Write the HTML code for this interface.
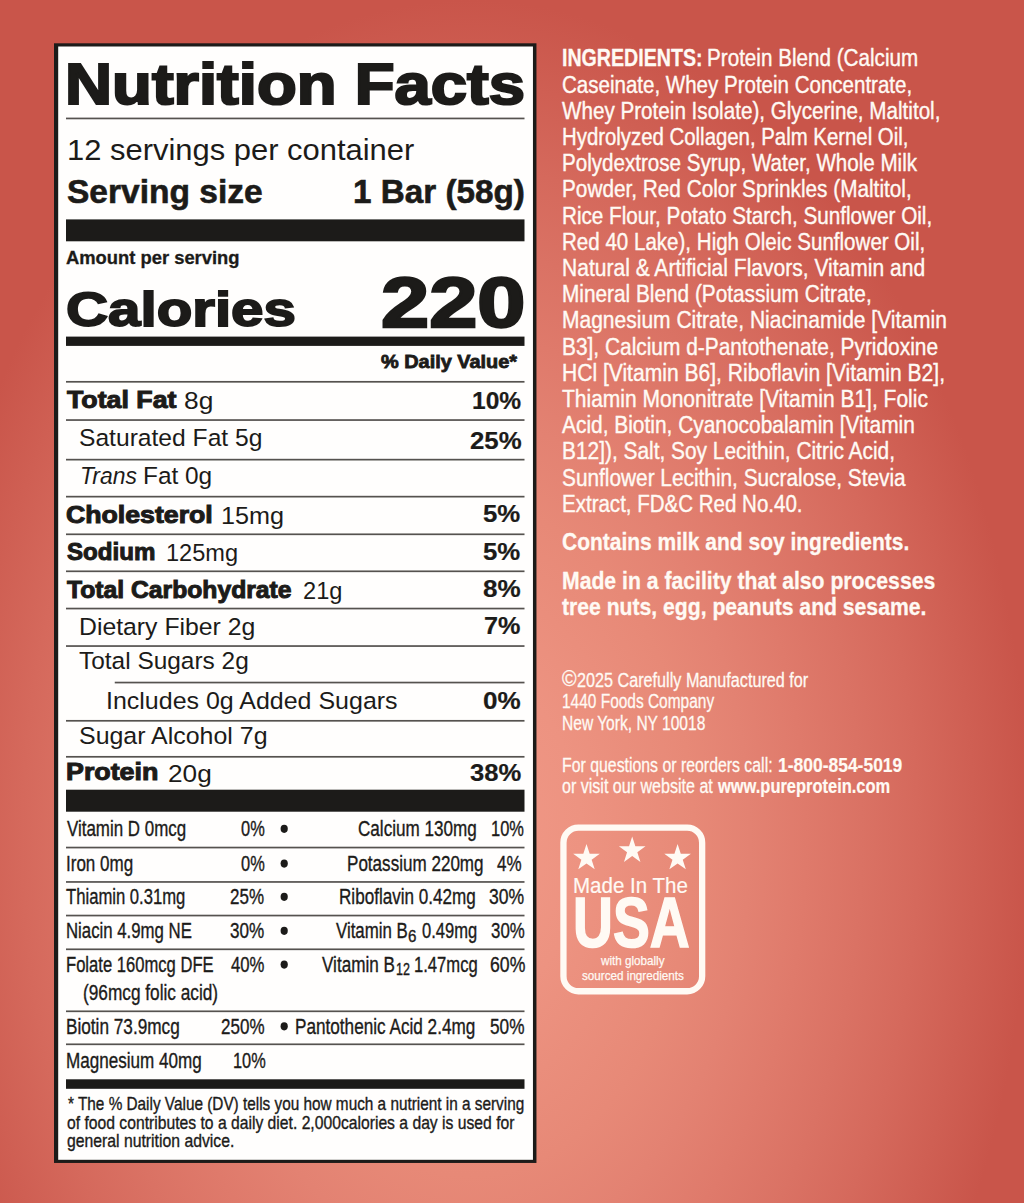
<!DOCTYPE html>
<html><head><meta charset="utf-8"><title>Nutrition Facts</title>
<style>
html,body{margin:0;padding:0;background:#c9554a;}
body{width:1024px;height:1203px;position:relative;overflow:hidden;font-family:"Liberation Sans",sans-serif;
background:#c9554a;}
.panel{position:absolute;left:54.1px;top:43.3px;width:474.9px;height:1113.2px;border-style:solid;border-color:#1c1b19;border-width:3.2px 3.5px 3.2px 4px;background:#fffefd;}
.t{position:absolute;white-space:nowrap;transform-origin:0 0;color:#1c1b19;font-family:"Liberation Sans",sans-serif;}
.r{position:absolute;}
.bg{position:absolute;left:0;top:0;width:1024px;height:1203px;background:#c9554a radial-gradient(ellipse 560px 840px at 470px 840px,#f09885 0%,#ef9684 10%,#ed9381 20%,#ea8e7c 30%,#e78977 40%,#e38272 50%,#df7a6b 60%,#da7264 70%,#d5695c 80%,#cf5f53 90%,#c9554a 100%);}
</style></head><body>
<div class="bg"></div>
<svg class="r" style="left:0;top:0" width="1024" height="1203" viewBox="0 0 1024 1203"><rect x="54.00" y="43.30" width="482.45" height="1119.65" fill="#1c1b19"/>
<rect x="58.20" y="46.50" width="474.75" height="1113.30" fill="#fffefd"/>
<rect x="66.00" y="117.60" width="458.50" height="1.70" fill="#55524f"/>
<rect x="66.00" y="219.40" width="458.50" height="21.90" fill="#1c1b19"/>
<rect x="66.00" y="336.60" width="458.50" height="9.30" fill="#1c1b19"/>
<rect x="66.00" y="380.95" width="458.50" height="1.70" fill="#55524f"/>
<rect x="66.00" y="419.20" width="458.50" height="1.70" fill="#55524f"/>
<rect x="66.00" y="458.80" width="458.50" height="1.70" fill="#55524f"/>
<rect x="66.00" y="495.80" width="458.50" height="1.70" fill="#55524f"/>
<rect x="66.00" y="533.45" width="458.50" height="1.70" fill="#55524f"/>
<rect x="66.00" y="570.45" width="458.50" height="1.70" fill="#55524f"/>
<rect x="66.00" y="607.70" width="458.50" height="1.70" fill="#55524f"/>
<rect x="66.00" y="645.20" width="458.50" height="1.70" fill="#55524f"/>
<rect x="66.00" y="719.95" width="458.50" height="1.70" fill="#55524f"/>
<rect x="66.00" y="755.95" width="458.50" height="1.70" fill="#55524f"/>
<rect x="114.75" y="681.70" width="409.75" height="1.70" fill="#55524f"/>
<rect x="66.00" y="789.70" width="458.50" height="22.00" fill="#1c1b19"/>
<rect x="66.00" y="846.70" width="458.50" height="1.70" fill="#55524f"/>
<rect x="66.00" y="881.10" width="458.50" height="1.70" fill="#55524f"/>
<rect x="66.00" y="914.70" width="458.50" height="1.70" fill="#55524f"/>
<rect x="66.00" y="948.45" width="458.50" height="1.70" fill="#55524f"/>
<rect x="66.00" y="1010.45" width="458.50" height="1.70" fill="#55524f"/>
<rect x="66.00" y="1043.45" width="458.50" height="1.70" fill="#55524f"/>
<rect x="66.00" y="1079.30" width="458.50" height="9.50" fill="#1c1b19"/>
<ellipse cx="284.20" cy="828.85" rx="3.60" ry="4.10" fill="#1c1b19"/>
<ellipse cx="284.20" cy="863.60" rx="3.60" ry="4.10" fill="#1c1b19"/>
<ellipse cx="284.20" cy="896.80" rx="3.60" ry="4.10" fill="#1c1b19"/>
<ellipse cx="284.20" cy="930.80" rx="3.60" ry="4.10" fill="#1c1b19"/>
<ellipse cx="284.20" cy="964.60" rx="3.60" ry="4.10" fill="#1c1b19"/>
<ellipse cx="284.20" cy="1026.30" rx="3.60" ry="4.10" fill="#1c1b19"/><rect x="563.45" y="827.65" width="138.7" height="163.6" rx="15" ry="15" fill="none" stroke="#fffaf4" stroke-width="6.3"/><polygon points="586.50,844.00 589.67,853.63 599.81,853.67 591.64,859.67 594.73,869.33 586.50,863.40 578.27,869.33 581.36,859.67 573.19,853.67 583.33,853.63" fill="#fffaf4"/><polygon points="632.20,836.60 635.37,846.23 645.51,846.27 637.34,852.27 640.43,861.93 632.20,856.00 623.97,861.93 627.06,852.27 618.89,846.27 629.03,846.23" fill="#fffaf4"/><polygon points="677.60,844.00 680.77,853.63 690.91,853.67 682.74,859.67 685.83,869.33 677.60,863.40 669.37,869.33 672.46,859.67 664.29,853.67 674.43,853.63" fill="#fffaf4"/></svg>
<div class="t" style="left:65.17px;top:56.25px;font-size:57.70px;line-height:57.70px;transform:scaleX(1.1302);font-weight:700;-webkit-text-stroke:2.2px #1c1b19;">Nutrition Facts</div>
<div class="t" style="left:66.57px;top:134.78px;font-size:29.80px;line-height:29.80px;transform:scaleX(1.0381);">12 servings per container</div>
<div class="t" style="left:66.78px;top:175.40px;font-size:33.43px;line-height:33.43px;transform:scaleX(1.0034);font-weight:700;-webkit-text-stroke:0.6px #1c1b19;">Serving size</div>
<div class="t" style="left:352.72px;top:175.40px;font-size:33.43px;line-height:33.43px;transform:scaleX(0.9951);font-weight:700;-webkit-text-stroke:0.6px #1c1b19;">1 Bar (58g)</div>
<div class="t" style="left:66.37px;top:249.84px;font-size:17.73px;line-height:17.73px;transform:scaleX(1.0367);font-weight:700;-webkit-text-stroke:0.3px #1c1b19;">Amount per serving</div>
<div class="t" style="left:66.28px;top:285.94px;font-size:47.67px;line-height:47.67px;transform:scaleX(1.2224);font-weight:700;-webkit-text-stroke:1.8px #1c1b19;">Calories</div>
<div class="t" style="left:381.29px;top:269.19px;font-size:69.48px;line-height:69.48px;transform:scaleX(1.2463);font-weight:700;-webkit-text-stroke:2.4px #1c1b19;">220</div>
<div class="t" style="left:381.37px;top:353.30px;font-size:18.31px;line-height:18.31px;transform:scaleX(1.0875);font-weight:700;-webkit-text-stroke:0.8px #1c1b19;">% Daily Value*</div>
<div class="t" style="left:67.08px;top:388.86px;font-size:23.26px;line-height:23.26px;transform:scaleX(1.1504);font-weight:700;-webkit-text-stroke:1.0px #1c1b19;">Total Fat</div>
<div class="t" style="left:184.18px;top:389.38px;font-size:24.13px;line-height:24.13px;transform:scaleX(1.0918);">8g</div>
<div class="t" style="left:472.32px;top:388.70px;font-size:23.98px;line-height:23.98px;transform:scaleX(1.0246);font-weight:700;-webkit-text-stroke:0.2px #1c1b19;">10%</div>
<div class="t" style="left:79.48px;top:426.38px;font-size:24.13px;line-height:24.13px;transform:scaleX(1.0204);">Saturated Fat 5g</div>
<div class="t" style="left:469.80px;top:428.70px;font-size:23.98px;line-height:23.98px;transform:scaleX(1.0772);font-weight:700;-webkit-text-stroke:0.2px #1c1b19;">25%</div>
<div class="t" style="left:79.61px;top:463.68px;font-size:24.13px;line-height:24.13px;transform:scaleX(0.9493);font-style:italic;">Trans</div>
<div class="t" style="left:143.49px;top:463.68px;font-size:24.13px;line-height:24.13px;transform:scaleX(1.0113);">Fat 0g</div>
<div class="t" style="left:66.24px;top:503.86px;font-size:23.26px;line-height:23.26px;transform:scaleX(1.1472);font-weight:700;-webkit-text-stroke:1.0px #1c1b19;">Cholesterol</div>
<div class="t" style="left:221.18px;top:504.38px;font-size:24.13px;line-height:24.13px;transform:scaleX(1.0436);">15mg</div>
<div class="t" style="left:482.95px;top:502.45px;font-size:23.98px;line-height:23.98px;transform:scaleX(1.0762);font-weight:700;-webkit-text-stroke:0.2px #1c1b19;">5%</div>
<div class="t" style="left:66.64px;top:540.86px;font-size:23.26px;line-height:23.26px;transform:scaleX(1.0357);font-weight:700;-webkit-text-stroke:1.0px #1c1b19;">Sodium</div>
<div class="t" style="left:166.28px;top:541.38px;font-size:24.13px;line-height:24.13px;transform:scaleX(0.9766);">125mg</div>
<div class="t" style="left:482.95px;top:539.95px;font-size:23.98px;line-height:23.98px;transform:scaleX(1.0762);font-weight:700;-webkit-text-stroke:0.2px #1c1b19;">5%</div>
<div class="t" style="left:67.03px;top:578.86px;font-size:23.26px;line-height:23.26px;transform:scaleX(1.0618);font-weight:700;-webkit-text-stroke:1.0px #1c1b19;">Total Carbohydrate</div>
<div class="t" style="left:302.64px;top:579.38px;font-size:24.13px;line-height:24.13px;transform:scaleX(0.9796);">21g</div>
<div class="t" style="left:482.54px;top:576.95px;font-size:23.98px;line-height:23.98px;transform:scaleX(1.0881);font-weight:700;-webkit-text-stroke:0.2px #1c1b19;">8%</div>
<div class="t" style="left:79.06px;top:615.38px;font-size:24.13px;line-height:24.13px;transform:scaleX(1.0273);">Dietary Fiber 2g</div>
<div class="t" style="left:483.82px;top:614.45px;font-size:23.98px;line-height:23.98px;transform:scaleX(1.0511);font-weight:700;-webkit-text-stroke:0.2px #1c1b19;">7%</div>
<div class="t" style="left:79.37px;top:649.38px;font-size:24.13px;line-height:24.13px;transform:scaleX(1.0125);">Total Sugars 2g</div>
<div class="t" style="left:105.80px;top:689.38px;font-size:24.13px;line-height:24.13px;transform:scaleX(1.0352);">Includes 0g Added Sugars</div>
<div class="t" style="left:482.54px;top:688.95px;font-size:23.98px;line-height:23.98px;transform:scaleX(1.0881);font-weight:700;-webkit-text-stroke:0.2px #1c1b19;">0%</div>
<div class="t" style="left:79.22px;top:723.88px;font-size:24.13px;line-height:24.13px;transform:scaleX(1.0336);">Sugar Alcohol 7g</div>
<div class="t" style="left:66.10px;top:761.36px;font-size:23.26px;line-height:23.26px;transform:scaleX(1.1530);font-weight:700;-webkit-text-stroke:1.0px #1c1b19;">Protein</div>
<div class="t" style="left:167.77px;top:761.88px;font-size:24.13px;line-height:24.13px;transform:scaleX(1.0855);">20g</div>
<div class="t" style="left:470.21px;top:761.45px;font-size:23.98px;line-height:23.98px;transform:scaleX(1.0687);font-weight:700;-webkit-text-stroke:0.2px #1c1b19;">38%</div>
<div class="t" style="left:66.64px;top:818.47px;font-size:21.15px;line-height:21.15px;transform:scaleX(0.8005);-webkit-text-stroke:0.35px #1c1b19;">Vitamin D 0mcg</div>
<div class="t" style="left:240.62px;top:818.47px;font-size:21.15px;line-height:21.15px;transform:scaleX(0.7764);-webkit-text-stroke:0.35px #1c1b19;">0%</div>
<div class="t" style="left:358.04px;top:818.47px;font-size:21.15px;line-height:21.15px;transform:scaleX(0.8084);-webkit-text-stroke:0.35px #1c1b19;">Calcium 130mg</div>
<div class="t" style="left:490.81px;top:818.47px;font-size:21.15px;line-height:21.15px;transform:scaleX(0.7784);-webkit-text-stroke:0.35px #1c1b19;">10%</div>
<div class="t" style="left:66.11px;top:853.47px;font-size:21.15px;line-height:21.15px;transform:scaleX(0.8053);-webkit-text-stroke:0.35px #1c1b19;">Iron 0mg</div>
<div class="t" style="left:241.12px;top:853.47px;font-size:21.15px;line-height:21.15px;transform:scaleX(0.7764);-webkit-text-stroke:0.35px #1c1b19;">0%</div>
<div class="t" style="left:346.81px;top:853.47px;font-size:21.15px;line-height:21.15px;transform:scaleX(0.8071);-webkit-text-stroke:0.35px #1c1b19;">Potassium 220mg</div>
<div class="t" style="left:496.77px;top:853.47px;font-size:21.15px;line-height:21.15px;transform:scaleX(0.8045);-webkit-text-stroke:0.35px #1c1b19;">4%</div>
<div class="t" style="left:66.38px;top:886.47px;font-size:21.15px;line-height:21.15px;transform:scaleX(0.7876);-webkit-text-stroke:0.35px #1c1b19;">Thiamin 0.31mg</div>
<div class="t" style="left:230.34px;top:886.47px;font-size:21.15px;line-height:21.15px;transform:scaleX(0.8038);-webkit-text-stroke:0.35px #1c1b19;">25%</div>
<div class="t" style="left:339.31px;top:886.47px;font-size:21.15px;line-height:21.15px;transform:scaleX(0.8082);-webkit-text-stroke:0.35px #1c1b19;">Riboflavin 0.42mg</div>
<div class="t" style="left:488.60px;top:886.47px;font-size:21.15px;line-height:21.15px;transform:scaleX(0.8312);-webkit-text-stroke:0.35px #1c1b19;">30%</div>
<div class="t" style="left:66.13px;top:920.47px;font-size:21.15px;line-height:21.15px;transform:scaleX(0.7937);-webkit-text-stroke:0.35px #1c1b19;">Niacin 4.9mg NE</div>
<div class="t" style="left:230.11px;top:920.47px;font-size:21.15px;line-height:21.15px;transform:scaleX(0.8094);-webkit-text-stroke:0.35px #1c1b19;">30%</div>
<div class="t" style="left:66.14px;top:954.22px;font-size:21.15px;line-height:21.15px;transform:scaleX(0.7852);-webkit-text-stroke:0.35px #1c1b19;">Folate 160mcg DFE</div>
<div class="t" style="left:230.88px;top:954.22px;font-size:21.15px;line-height:21.15px;transform:scaleX(0.7910);-webkit-text-stroke:0.35px #1c1b19;">40%</div>
<div class="t" style="left:83.33px;top:982.22px;font-size:21.15px;line-height:21.15px;transform:scaleX(0.8156);-webkit-text-stroke:0.35px #1c1b19;">(96mcg folic acid)</div>
<div class="t" style="left:66.10px;top:1015.97px;font-size:21.15px;line-height:21.15px;transform:scaleX(0.8130);-webkit-text-stroke:0.35px #1c1b19;">Biotin 73.9mcg</div>
<div class="t" style="left:220.84px;top:1015.97px;font-size:21.15px;line-height:21.15px;transform:scaleX(0.8047);-webkit-text-stroke:0.35px #1c1b19;">250%</div>
<div class="t" style="left:294.80px;top:1015.97px;font-size:21.15px;line-height:21.15px;transform:scaleX(0.8118);-webkit-text-stroke:0.35px #1c1b19;">Pantothenic Acid 2.4mg</div>
<div class="t" style="left:489.60px;top:1015.97px;font-size:21.15px;line-height:21.15px;transform:scaleX(0.8143);-webkit-text-stroke:0.35px #1c1b19;">50%</div>
<div class="t" style="left:66.11px;top:1049.72px;font-size:21.15px;line-height:21.15px;transform:scaleX(0.8074);-webkit-text-stroke:0.35px #1c1b19;">Magnesium 40mg</div>
<div class="t" style="left:232.61px;top:1049.72px;font-size:21.15px;line-height:21.15px;transform:scaleX(0.7735);-webkit-text-stroke:0.35px #1c1b19;">10%</div>
<div class="t" style="left:335.94px;top:920.47px;font-size:21.15px;line-height:21.15px;transform:scaleX(0.7971);-webkit-text-stroke:0.35px #1c1b19;">Vitamin B</div>
<div class="t" style="left:408.25px;top:928.74px;font-size:16.64px;line-height:16.64px;transform:scaleX(0.9078);-webkit-text-stroke:0.35px #1c1b19;">6</div>
<div class="t" style="left:421.62px;top:920.47px;font-size:21.15px;line-height:21.15px;transform:scaleX(0.7821);-webkit-text-stroke:0.35px #1c1b19;">0.49mg</div>
<div class="t" style="left:490.61px;top:920.47px;font-size:21.15px;line-height:21.15px;transform:scaleX(0.7974);-webkit-text-stroke:0.35px #1c1b19;">30%</div>
<div class="t" style="left:322.44px;top:954.22px;font-size:21.15px;line-height:21.15px;transform:scaleX(0.8093);-webkit-text-stroke:0.35px #1c1b19;">Vitamin B</div>
<div class="t" style="left:395.75px;top:962.24px;font-size:16.64px;line-height:16.64px;transform:scaleX(0.7523);-webkit-text-stroke:0.35px #1c1b19;">12</div>
<div class="t" style="left:413.60px;top:954.22px;font-size:21.15px;line-height:21.15px;transform:scaleX(0.7865);-webkit-text-stroke:0.35px #1c1b19;">1.47mcg</div>
<div class="t" style="left:489.72px;top:954.22px;font-size:21.15px;line-height:21.15px;transform:scaleX(0.8354);-webkit-text-stroke:0.35px #1c1b19;">60%</div>
<div class="t" style="left:67.66px;top:1094.71px;font-size:18.10px;line-height:18.10px;transform:scaleX(0.8474);-webkit-text-stroke:0.35px #1c1b19;">* The % Daily Value (DV) tells you how much a nutrient in a serving</div>
<div class="t" style="left:67.41px;top:1113.61px;font-size:18.10px;line-height:18.10px;transform:scaleX(0.8672);-webkit-text-stroke:0.35px #1c1b19;">of food contributes to a daily diet. 2,000calories a day is used for</div>
<div class="t" style="left:67.41px;top:1132.41px;font-size:18.10px;line-height:18.10px;transform:scaleX(0.8711);-webkit-text-stroke:0.35px #1c1b19;">general nutrition advice.</div>
<div class="t" style="left:562.20px;top:46.23px;font-size:24.71px;line-height:24.71px;transform:scaleX(0.7937);font-weight:700;color:#fffaf4;-webkit-text-stroke:0.3px #fffaf4;">INGREDIENTS:</div>
<div class="t" style="left:707.05px;top:46.31px;font-size:24.56px;line-height:24.56px;transform:scaleX(0.8413);color:#fffaf4;-webkit-text-stroke:0.4px #fffaf4;">Protein Blend (Calcium</div>
<div class="t" style="left:562.20px;top:72.51px;font-size:24.56px;line-height:24.56px;transform:scaleX(0.8360);color:#fffaf4;-webkit-text-stroke:0.4px #fffaf4;">Caseinate, Whey Protein Concentrate,</div>
<div class="t" style="left:562.20px;top:98.71px;font-size:24.56px;line-height:24.56px;transform:scaleX(0.8406);color:#fffaf4;-webkit-text-stroke:0.4px #fffaf4;">Whey Protein Isolate), Glycerine, Maltitol,</div>
<div class="t" style="left:562.20px;top:124.91px;font-size:24.56px;line-height:24.56px;transform:scaleX(0.8298);color:#fffaf4;-webkit-text-stroke:0.4px #fffaf4;">Hydrolyzed Collagen, Palm Kernel Oil,</div>
<div class="t" style="left:562.20px;top:151.11px;font-size:24.56px;line-height:24.56px;transform:scaleX(0.8387);color:#fffaf4;-webkit-text-stroke:0.4px #fffaf4;">Polydextrose Syrup, Water, Whole Milk</div>
<div class="t" style="left:562.20px;top:177.31px;font-size:24.56px;line-height:24.56px;transform:scaleX(0.8460);color:#fffaf4;-webkit-text-stroke:0.4px #fffaf4;">Powder, Red Color Sprinkles (Maltitol,</div>
<div class="t" style="left:562.20px;top:203.51px;font-size:24.56px;line-height:24.56px;transform:scaleX(0.8426);color:#fffaf4;-webkit-text-stroke:0.4px #fffaf4;">Rice Flour, Potato Starch, Sunflower Oil,</div>
<div class="t" style="left:562.20px;top:229.71px;font-size:24.56px;line-height:24.56px;transform:scaleX(0.8371);color:#fffaf4;-webkit-text-stroke:0.4px #fffaf4;">Red 40 Lake), High Oleic Sunflower Oil,</div>
<div class="t" style="left:562.20px;top:255.91px;font-size:24.56px;line-height:24.56px;transform:scaleX(0.8568);color:#fffaf4;-webkit-text-stroke:0.4px #fffaf4;">Natural &amp; Artificial Flavors, Vitamin and</div>
<div class="t" style="left:562.20px;top:282.11px;font-size:24.56px;line-height:24.56px;transform:scaleX(0.8471);color:#fffaf4;-webkit-text-stroke:0.4px #fffaf4;">Mineral Blend (Potassium Citrate,</div>
<div class="t" style="left:562.20px;top:308.31px;font-size:24.56px;line-height:24.56px;transform:scaleX(0.8556);color:#fffaf4;-webkit-text-stroke:0.4px #fffaf4;">Magnesium Citrate, Niacinamide [Vitamin</div>
<div class="t" style="left:562.20px;top:334.51px;font-size:24.56px;line-height:24.56px;transform:scaleX(0.8506);color:#fffaf4;-webkit-text-stroke:0.4px #fffaf4;">B3], Calcium d-Pantothenate, Pyridoxine</div>
<div class="t" style="left:562.20px;top:360.71px;font-size:24.56px;line-height:24.56px;transform:scaleX(0.8577);color:#fffaf4;-webkit-text-stroke:0.4px #fffaf4;">HCl [Vitamin B6], Riboflavin [Vitamin B2],</div>
<div class="t" style="left:562.20px;top:386.91px;font-size:24.56px;line-height:24.56px;transform:scaleX(0.8551);color:#fffaf4;-webkit-text-stroke:0.4px #fffaf4;">Thiamin Mononitrate [Vitamin B1], Folic</div>
<div class="t" style="left:562.20px;top:413.11px;font-size:24.56px;line-height:24.56px;transform:scaleX(0.8516);color:#fffaf4;-webkit-text-stroke:0.4px #fffaf4;">Acid, Biotin, Cyanocobalamin [Vitamin</div>
<div class="t" style="left:562.20px;top:439.31px;font-size:24.56px;line-height:24.56px;transform:scaleX(0.8505);color:#fffaf4;-webkit-text-stroke:0.4px #fffaf4;">B12]), Salt, Soy Lecithin, Citric Acid,</div>
<div class="t" style="left:562.20px;top:465.51px;font-size:24.56px;line-height:24.56px;transform:scaleX(0.8480);color:#fffaf4;-webkit-text-stroke:0.4px #fffaf4;">Sunflower Lecithin, Sucralose, Stevia</div>
<div class="t" style="left:562.20px;top:491.71px;font-size:24.56px;line-height:24.56px;transform:scaleX(0.8356);color:#fffaf4;-webkit-text-stroke:0.4px #fffaf4;">Extract, FD&amp;C Red No.40.</div>
<div class="t" style="left:562.20px;top:529.83px;font-size:24.71px;line-height:24.71px;transform:scaleX(0.8491);font-weight:700;color:#fffaf4;-webkit-text-stroke:0.3px #fffaf4;">Contains milk and soy ingredients.</div>
<div class="t" style="left:562.20px;top:568.53px;font-size:24.71px;line-height:24.71px;transform:scaleX(0.8576);font-weight:700;color:#fffaf4;-webkit-text-stroke:0.3px #fffaf4;">Made in a facility that also processes</div>
<div class="t" style="left:562.20px;top:595.03px;font-size:24.71px;line-height:24.71px;transform:scaleX(0.8561);font-weight:700;color:#fffaf4;-webkit-text-stroke:0.3px #fffaf4;">tree nuts, egg, peanuts and sesame.</div>
<div class="t" style="left:561.74px;top:669.06px;font-size:21.37px;line-height:21.37px;transform:scaleX(0.9255);color:#fffaf4;-webkit-text-stroke:0.3px #fffaf4;">©</div>
<div class="t" style="left:576.66px;top:669.62px;font-size:20.35px;line-height:20.35px;transform:scaleX(0.7957);color:#fffaf4;-webkit-text-stroke:0.3px #fffaf4;">2025 Carefully Manufactured for</div>
<div class="t" style="left:561.65px;top:691.42px;font-size:20.35px;line-height:20.35px;transform:scaleX(0.7599);color:#fffaf4;-webkit-text-stroke:0.3px #fffaf4;">1440 Foods Company</div>
<div class="t" style="left:562.20px;top:712.62px;font-size:20.35px;line-height:20.35px;transform:scaleX(0.7649);color:#fffaf4;-webkit-text-stroke:0.3px #fffaf4;">New York, NY 10018</div>
<div class="t" style="left:562.20px;top:754.62px;font-size:20.35px;line-height:20.35px;transform:scaleX(0.7792);color:#fffaf4;-webkit-text-stroke:0.3px #fffaf4;">For questions or reorders call:</div>
<div class="t" style="left:777.69px;top:754.55px;font-size:20.49px;line-height:20.49px;transform:scaleX(0.8526);font-weight:700;color:#fffaf4;-webkit-text-stroke:0.2px #fffaf4;">1-800-854-5019</div>
<div class="t" style="left:562.20px;top:776.12px;font-size:20.35px;line-height:20.35px;transform:scaleX(0.7891);color:#fffaf4;-webkit-text-stroke:0.3px #fffaf4;">or visit our website at</div>
<div class="t" style="left:717.94px;top:776.05px;font-size:20.49px;line-height:20.49px;transform:scaleX(0.8034);font-weight:700;color:#fffaf4;-webkit-text-stroke:0.2px #fffaf4;">www.pureprotein.com</div>
<div class="t" style="left:573.39px;top:874.21px;font-size:22.67px;line-height:22.67px;transform:scaleX(0.9054);color:#fffaf4;-webkit-text-stroke:0.2px #fffaf4;">Made In The</div>
<div class="t" style="left:573.23px;top:887.43px;font-size:71.08px;line-height:71.08px;transform:scaleX(0.7777);font-weight:700;color:#fffaf4;-webkit-text-stroke:1.6px #fffaf4;">USA</div>
<div class="t" style="left:600.99px;top:954.12px;font-size:13.30px;line-height:13.30px;transform:scaleX(0.8765);color:#fffaf4;-webkit-text-stroke:0.25px #fffaf4;">with globally</div>
<div class="t" style="left:581.53px;top:969.12px;font-size:13.30px;line-height:13.30px;transform:scaleX(0.8781);color:#fffaf4;-webkit-text-stroke:0.25px #fffaf4;">sourced ingredients</div>
</body></html>
